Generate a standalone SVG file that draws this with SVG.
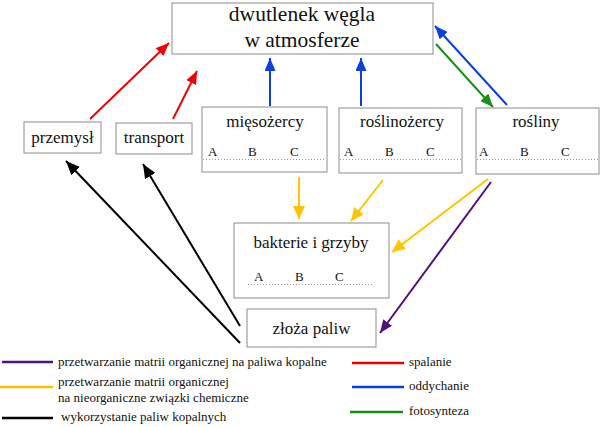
<svg xmlns="http://www.w3.org/2000/svg" width="600" height="427" viewBox="0 0 600 427" font-family="'Liberation Serif', 'DejaVu Serif', serif">
<style>
.box{fill:#fff;stroke:#8c8c8c;stroke-width:1}
text{font-family:'Liberation Serif','DejaVu Serif',serif;fill:#111}
.lbl{text-anchor:middle}
.t{font-size:17px}
.abc{font-size:13px}
.dot{stroke:#999;stroke-width:1;stroke-dasharray:1,2}
.leg{font-size:13px}
.a{fill:none;stroke-width:2}
</style>
<defs>
<marker id="mRed" markerUnits="userSpaceOnUse" markerWidth="13" markerHeight="11" refX="13" refY="5.5" orient="auto"><path d="M0,0 L13,5.5 L0,11 z" fill="#f00000"/></marker>
<marker id="mBlue" markerUnits="userSpaceOnUse" markerWidth="13" markerHeight="11" refX="13" refY="5.5" orient="auto"><path d="M0,0 L13,5.5 L0,11 z" fill="#0a3fe0"/></marker>
<marker id="mGreen" markerUnits="userSpaceOnUse" markerWidth="13" markerHeight="11" refX="13" refY="5.5" orient="auto"><path d="M0,0 L13,5.5 L0,11 z" fill="#16911a"/></marker>
<marker id="mYellow" markerUnits="userSpaceOnUse" markerWidth="13" markerHeight="12" refX="13" refY="6" orient="auto"><path d="M0,0 L13,6 L0,12 z" fill="#ffc400"/></marker>
<marker id="mPurple" markerUnits="userSpaceOnUse" markerWidth="13" markerHeight="11" refX="13" refY="5.5" orient="auto"><path d="M0,0 L13,5.5 L0,11 z" fill="#54107e"/></marker>
<marker id="mBlack" markerUnits="userSpaceOnUse" markerWidth="14" markerHeight="12" refX="14" refY="6" orient="auto"><path d="M0,0 L14,6 L0,12 z" fill="#000"/></marker>
</defs>

<g id="connectors">
<line class="a" x1="90" y1="119" x2="169" y2="43" stroke="#f00000" marker-end="url(#mRed)"/>
<line class="a" x1="173" y1="119" x2="197" y2="71" stroke="#f00000" marker-end="url(#mRed)"/>
<line class="a" x1="270" y1="106" x2="270" y2="58" stroke="#0a3fe0" stroke-width="2.5" marker-end="url(#mBlue)"/>
<line class="a" x1="361" y1="106" x2="361" y2="58" stroke="#0a3fe0" stroke-width="2.5" marker-end="url(#mBlue)"/>
<line class="a" x1="507" y1="105" x2="435" y2="26" stroke="#0a3fe0" stroke-width="2.5" marker-end="url(#mBlue)"/>
<line class="a" x1="436" y1="44" x2="493" y2="107" stroke="#16911a" stroke-width="2.5" marker-end="url(#mGreen)"/>
<line class="a" x1="240" y1="343" x2="66" y2="161" stroke="#000" marker-end="url(#mBlack)"/>
<line class="a" x1="240" y1="326" x2="143" y2="164" stroke="#000" marker-end="url(#mBlack)"/>
<line class="a" x1="299" y1="177" x2="299" y2="219" stroke="#ffc400" marker-end="url(#mYellow)"/>
<line class="a" x1="383" y1="180" x2="351" y2="221" stroke="#ffc400" marker-end="url(#mYellow)"/>
<line class="a" x1="488" y1="179" x2="392" y2="252" stroke="#ffc400" marker-end="url(#mYellow)"/>
<line class="a" x1="491" y1="182" x2="380" y2="333" stroke="#54107e" marker-end="url(#mPurple)"/>
</g>

<g id="atmosfera">
<rect class="box" x="172" y="3" width="261" height="51"/>
<text class="lbl" x="302" y="21" font-size="21.5">dwutlenek węgla</text>
<text class="lbl" x="302" y="47" font-size="21.5">w atmosferze</text>
</g>

<g id="przemysl">
<rect class="box" x="24" y="122" width="77" height="31"/>
<text class="lbl t" x="62.5" y="143">przemysł</text>
</g>

<g id="transport">
<rect class="box" x="116" y="123" width="76" height="31"/>
<text class="lbl t" x="154" y="143">transport</text>
</g>

<g id="miesozercy">
<rect class="box" x="202" y="107" width="125" height="65"/>
<text class="lbl t" x="265" y="127">mięsożercy</text>
<text class="abc" x="208" y="156">A</text>
<text class="abc" x="248" y="156">B</text>
<text class="abc" x="290" y="156">C</text>
<line class="dot" x1="203" y1="159.5" x2="326" y2="159.5"/>
</g>

<g id="roslinozercy">
<rect class="box" x="339" y="108" width="123" height="65"/>
<text class="lbl t" x="402" y="127">roślinożercy</text>
<text class="abc" x="344" y="156">A</text>
<text class="abc" x="385" y="156">B</text>
<text class="abc" x="426" y="156">C</text>
<line class="dot" x1="340" y1="159.5" x2="461" y2="159.5"/>
</g>

<g id="rosliny">
<rect class="box" x="476" y="108" width="123" height="66"/>
<text class="lbl t" x="536" y="127">rośliny</text>
<text class="abc" x="479" y="156">A</text>
<text class="abc" x="520" y="156">B</text>
<text class="abc" x="561" y="156">C</text>
<line class="dot" x1="477" y1="159.5" x2="598" y2="159.5"/>
</g>

<g id="bakterie">
<rect class="box" x="234" y="223" width="155" height="75"/>
<text class="lbl t" x="311" y="248">bakterie i grzyby</text>
<text class="abc" x="254" y="281">A</text>
<text class="abc" x="295" y="281">B</text>
<text class="abc" x="335" y="281">C</text>
<line class="dot" x1="248" y1="284.5" x2="373" y2="284.5"/>
</g>

<g id="zloza">
<rect class="box" x="247" y="309" width="129" height="38"/>
<text class="lbl t" x="311.5" y="334">złoża paliw</text>
</g>

<g id="legend">
<line x1="2" y1="362" x2="53" y2="362" stroke="#4c1777" stroke-width="2.5"/>
<text class="leg" x="58" y="366">przetwarzanie matrii organicznej na paliwa kopalne</text>
<line x1="0" y1="387" x2="53" y2="387" stroke="#f5c400" stroke-width="2.5"/>
<text class="leg" x="58" y="386">przetwarzanie matrii organicznej</text>
<text class="leg" x="58" y="402">na nieorganiczne związki chemiczne</text>
<line x1="2" y1="418" x2="53" y2="418" stroke="#000" stroke-width="2.5"/>
<text class="leg" x="61" y="421">wykorzystanie paliw kopalnych</text>
<line x1="352" y1="363" x2="404" y2="363" stroke="#e8000b" stroke-width="2.5"/>
<text class="leg" x="409" y="366">spalanie</text>
<line x1="352" y1="387" x2="404" y2="387" stroke="#0a3fd8" stroke-width="2.5"/>
<text class="leg" x="409" y="390">oddychanie</text>
<line x1="350" y1="412" x2="403" y2="412" stroke="#1a8c1a" stroke-width="2.5"/>
<text class="leg" x="409" y="415">fotosynteza</text>
</g>
</svg>
